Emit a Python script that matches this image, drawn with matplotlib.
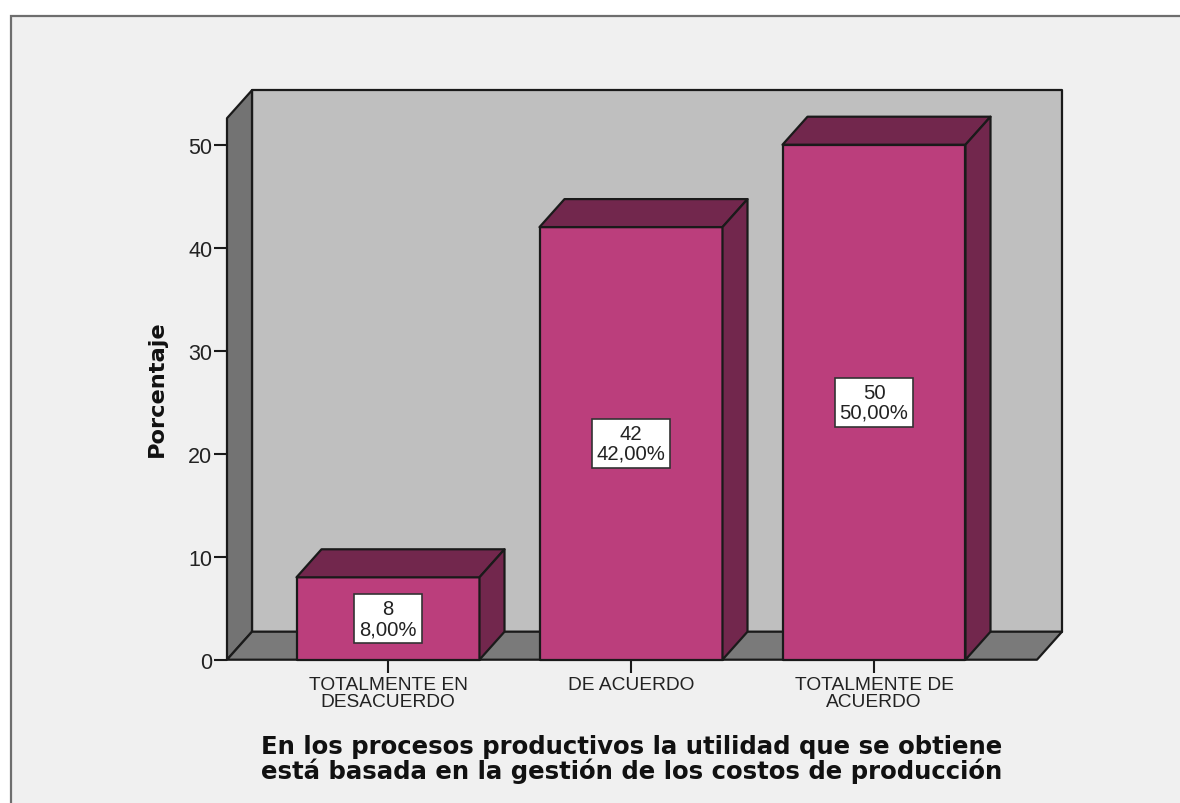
import matplotlib
matplotlib.use("Agg")
import matplotlib.pyplot as plt
from matplotlib.patches import Polygon, Rectangle

plt.rcParams['font.family'] = ['Liberation Sans', 'DejaVu Sans']

categories = ["TOTALMENTE EN\nDESACUERDO", "DE ACUERDO", "TOTALMENTE DE\nACUERDO"]
counts = [8, 42, 50]
percents = ["8,00%", "42,00%", "50,00%"]
y_ticks = [0, 10, 20, 30, 40, 50]
y_label = "Porcentaje"
x_label = "En los procesos productivos la utilidad que se obtiene\nestá basada en la gestión de los costos de producción"

W, H = 1180, 804
fig = plt.figure(figsize=(W / 100, H / 100), dpi=100, facecolor="white")

# outer panel
fig.add_artist(Rectangle((10.5 / W, -0.02), 1.1, (804 - 17) / H + 0.02, transform=fig.transFigure,
                         facecolor="#f0f0f0", edgecolor="#6e6e6e", linewidth=1.6, zorder=-1))

L, R, T, B = 227, 1062, 91.2, 660.7
ax = fig.add_axes([L / W, 1 - B / H, (R - L) / W, (B - T) / H])
ax.set_xlim((227 - 388) / 243, (1062 - 388) / 243)
ax.set_ylim(0, (B - T) / 10.3)
ax.patch.set_visible(False)
for s in ax.spines.values():
    s.set_visible(False)

dx, dy = 25 / 243, 28 / 10.3
x0 = ax.get_xlim()[0]
x1 = (1037 - 388) / 243
top = ax.get_ylim()[1] - dy
edge = "#1a1a1a"
kw = dict(edgecolor=edge, linewidth=1.6, joinstyle="round", clip_on=False)

# back wall, side wall, floor
ax.add_patch(Polygon([(x0 + dx, dy), (x1 + dx, dy), (x1 + dx, top + dy), (x0 + dx, top + dy)], facecolor="#bfbfbf", **kw))
ax.add_patch(Polygon([(x0, 0), (x0 + dx, dy), (x0 + dx, top + dy), (x0, top)], facecolor="#737373", **kw))
ax.add_patch(Polygon([(x0, 0), (x1, 0), (x1 + dx, dy), (x0 + dx, dy)], facecolor="#7a7a7a", **kw))

# bars
half = 91.5 / 243
for i, (v, c, p) in enumerate(zip(counts, counts, percents)):
    a, b = i - half, i + half
    ax.add_patch(Polygon([(a, 0), (b, 0), (b, v), (a, v)], facecolor="#bb3e7c", zorder=3, **kw))
    ax.add_patch(Polygon([(a, v), (b, v), (b + dx, v + dy), (a + dx, v + dy)], facecolor="#72274d", zorder=3, **kw))
    ax.add_patch(Polygon([(b, 0), (b + dx, dy), (b + dx, v + dy), (b, v)], facecolor="#72274d", zorder=3, **kw))
    ax.text(i, v / 2, f"{c}\n{p}", ha="center", va="center", fontsize=14.6, color="#222222", zorder=5,
            linespacing=1.08, bbox=dict(boxstyle="square,pad=0.24", facecolor="white", edgecolor="#333333", linewidth=1.2))

ax.set_xticks(range(len(categories)))
ax.set_xticklabels(categories, fontsize=13.8, color="#222222", linespacing=0.95)
ax.set_yticks(y_ticks)
ax.tick_params(axis="x", length=9, width=1.5, color=edge, pad=3)
ax.tick_params(axis="y", length=9.5, width=1.5, color=edge, pad=1, labelsize=15.5, labelcolor="#222222")
ax.set_ylabel(y_label, fontsize=16.2, fontweight="bold", color="#111111", family="DejaVu Sans")
ax.yaxis.set_label_coords((167 - L) / (R - L), (B - 389) / (B - T))
fig.text(632 / W, 1 - 759.5 / H, x_label, ha="center", va="center", fontsize=17.6, fontweight="bold",
         family="DejaVu Sans", color="#111111", linespacing=1.0)

fig.savefig("out.png", dpi=100, facecolor="white")
